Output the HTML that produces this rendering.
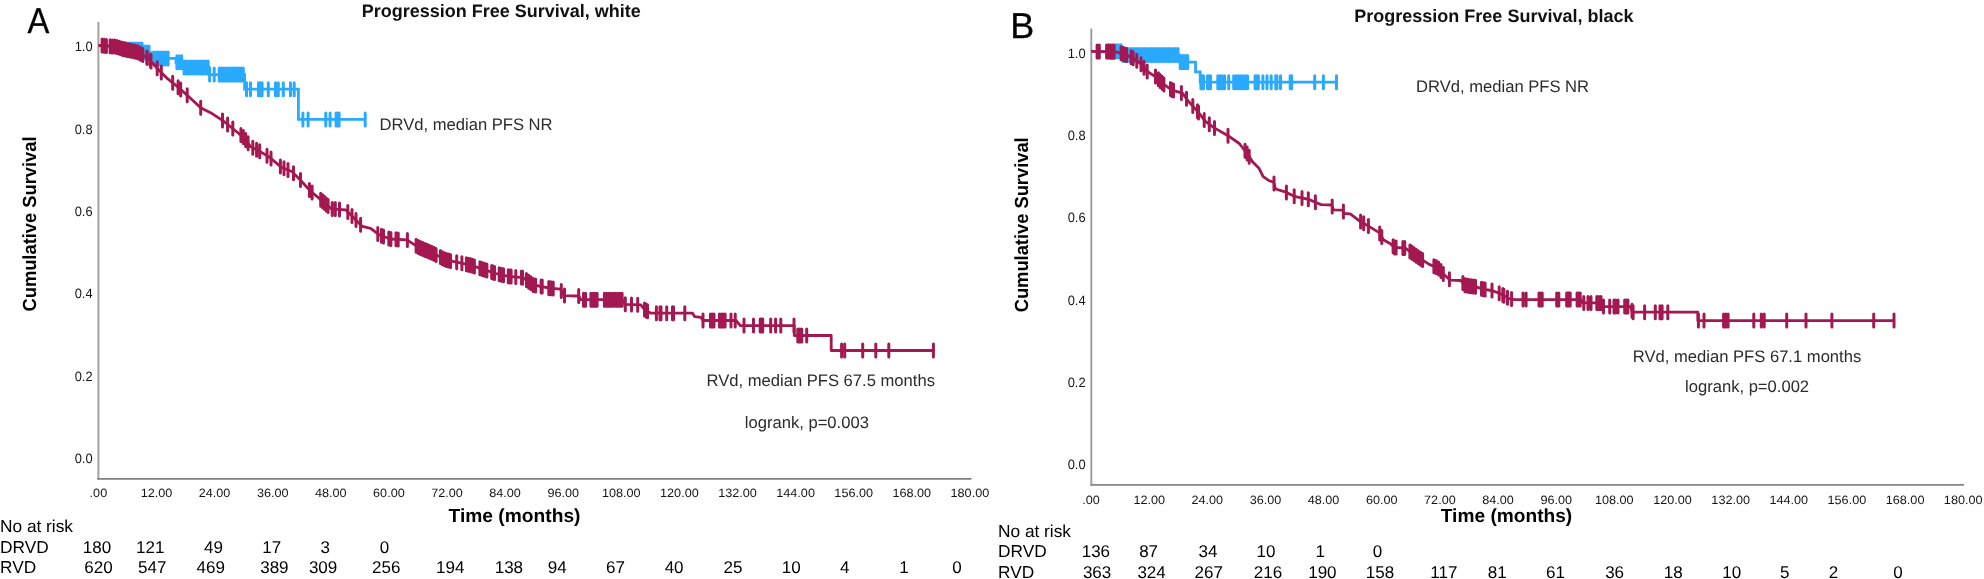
<!DOCTYPE html>
<html lang="en"><head><meta charset="utf-8"><title>Progression Free Survival</title>
<style>
html,body{margin:0;padding:0;background:#fff;}
body{width:1984px;height:579px;overflow:hidden;font-family:"Liberation Sans",Arial,sans-serif;}
svg{display:block;filter:blur(0.35px);}
</style></head><body>
<svg width="1984" height="579" viewBox="0 0 1984 579">
<rect width="1984" height="579" fill="#fff"/>
<path d="M98.4,22 V479.6" fill="none" stroke="#a2a2a2" stroke-width="2"/>
<path d="M97.4,478.9 H971.5" fill="none" stroke="#808080" stroke-width="1.7"/>
<path d="M1091.3,28.5 V485.6" fill="none" stroke="#9c9c9c" stroke-width="1.9"/>
<path d="M1090.4,484.8 H1964" fill="none" stroke="#858585" stroke-width="1.7"/>
<path d="M98.5,45.8 H122.0 V49.5 H143.7 V52.6 H152.0 V58.4 H176.0 V62.3 H184.0 V67.5 H209.0 V74.6 H244.6 V89.2 H298.4 V119.4 H365.2" fill="none" stroke="#2AAAFF" stroke-width="2.8" stroke-linejoin="miter"/>
<path d="M122.9,43.0v13.0 M125.3,43.0v13.0 M127.7,43.0v13.0 M130.0,43.0v13.0 M132.4,43.0v13.0 M134.8,43.0v13.0 M137.2,43.0v13.0 M139.6,43.0v13.0 M142.0,43.0v13.0 M144.3,46.1v13.0 M146.7,46.1v13.0 M149.1,46.1v13.0 M153.9,51.9v13.0 M156.3,51.9v13.0 M158.6,51.9v13.0 M161.0,51.9v13.0 M163.4,51.9v13.0 M165.7,51.9v13.0 M168.1,51.9v13.0 M176.9,55.8v13.0 M179.3,55.8v13.0 M181.7,55.8v13.0 M184.1,61.0v13.0 M186.5,61.0v13.0 M188.9,61.0v13.0 M191.3,61.0v13.0 M193.7,61.0v13.0 M196.1,61.0v13.0 M198.5,61.0v13.0 M200.9,61.0v13.0 M203.3,61.0v13.0 M205.7,61.0v13.0 M208.1,61.0v13.0 M209.6,68.1v13.0 M214.2,68.1v13.0 M219.2,68.1v13.0 M221.4,68.1v13.0 M223.6,68.1v13.0 M225.8,68.1v13.0 M228.0,68.1v13.0 M230.2,68.1v13.0 M232.3,68.1v13.0 M234.5,68.1v13.0 M236.7,68.1v13.0 M238.9,68.1v13.0 M241.1,68.1v13.0 M243.3,68.1v13.0 M246.5,82.7v13.0 M250.5,82.7v13.0 M258.5,82.7v13.0 M260.3,82.7v13.0 M262.1,82.7v13.0 M268.3,82.7v13.0 M275.5,82.7v13.0 M278.3,82.7v13.0 M283.3,82.7v13.0 M290.5,82.7v13.0 M294.2,82.7v13.0 M302.9,112.9v13.0 M308.1,112.9v13.0 M325.8,112.9v13.0 M330.1,112.9v13.0 M336.1,112.9v13.0 M337.6,112.9v13.0 M339.1,112.9v13.0 M365.2,112.9v13.0" fill="none" stroke="#2AAAFF" stroke-width="3" stroke-linecap="round"/>
<path d="M98.5,45.5 L100.2,45.5 L115.7,46.6 L126.1,49.7 L136.5,51.8 L142.7,54.9 L148.9,59.0 L157.2,68.3 L167.5,78.7 L177.9,87.0 L188.3,96.3 L200.7,107.7 L211.0,112.9 L223.5,121.2 L233.9,129.5 L244.2,137.8 L250.4,146.6 L258.7,150.7 L269.0,156.9 L281.5,167.3 L291.8,171.5 L300.1,179.7 L310.5,191.1 L322.9,201.5 L331.2,208.8 L345.7,209.8 L354.0,218.1 L362.3,226.4 L370.6,228.4 L378.9,234.7 L390.4,239.0 L407.0,239.8 L417.3,246.6 L431.8,252.8 L446.3,260.1 L456.7,262.2 L471.2,265.3 L483.6,269.4 L496.0,273.6 L508.5,276.3 L523.0,277.7 L533.4,285.0 L550.0,288.1 L560.3,289.1 L564.0,295.6 L578.7,296.0 L580.7,299.7 L622.0,299.7 L625.3,304.3 L640.8,304.9 L645.0,310.0 L651.0,313.2 L692.6,313.2 L694.7,316.7 L701.0,317.4 L703.0,320.5 L736.0,320.5 L740.3,325.6 L794.3,325.6 L794.3,335.5 L831.2,335.5 L831.2,350.5 L933.6,350.5" fill="none" stroke="#A31850" stroke-width="2.8" stroke-linejoin="round"/>
<path d="M102.1,39.1v13.0 M104.2,39.3v13.0 M106.4,39.4v13.0 M110.1,39.7v13.0 M112.4,39.9v13.0 M114.8,40.0v13.0 M117.1,40.5v13.0 M119.4,41.2v13.0 M121.8,41.9v13.0 M124.1,42.6v13.0 M126.4,43.3v13.0 M128.8,43.7v13.0 M131.1,44.2v13.0 M133.5,44.7v13.0 M135.8,45.2v13.0 M138.1,46.1v13.0 M140.5,47.3v13.0 M142.8,48.5v13.0 M146.8,51.1v13.0 M147.3,51.4v13.0 M150.5,54.3v13.0 M151.0,54.9v13.0 M157.2,61.8v13.0 M161.3,65.9v13.0 M172.7,76.3v13.0 M178.1,80.7v13.0 M178.1,80.7v13.0 M180.7,83.0v13.0 M180.7,83.0v13.0 M187.2,88.8v13.0 M200.7,101.2v13.0 M222.5,114.0v13.0 M227.6,118.0v13.0 M232.8,122.1v13.0 M240.9,128.6v13.0 M243.3,130.6v13.0 M245.7,133.4v13.0 M248.1,136.8v13.0 M252.8,141.3v13.0 M256.6,143.2v13.0 M259.7,144.8v13.0 M267.0,149.2v13.0 M271.0,152.1v13.0 M280.4,159.9v13.0 M284.0,161.8v13.0 M288.0,163.5v13.0 M293.5,166.7v13.0 M300.5,173.6v13.0 M309.4,183.4v13.0 M312.1,185.9v13.0 M320.7,193.2v13.0 M322.6,194.7v13.0 M324.4,196.3v13.0 M326.2,197.9v13.0 M328.1,199.6v13.0 M332.2,202.4v13.0 M335.3,202.6v13.0 M339.5,202.9v13.0 M347.8,205.4v13.0 M352.0,209.6v13.0 M356.0,213.6v13.0 M360.6,218.2v13.0 M377.8,227.4v13.0 M381.5,229.2v13.0 M383.5,229.9v13.0 M388.8,231.9v13.0 M390.9,232.5v13.0 M396.0,232.8v13.0 M398.2,232.9v13.0 M407.4,233.6v13.0 M416.1,239.3v13.0 M418.3,240.5v13.0 M420.5,241.5v13.0 M422.8,242.4v13.0 M425.0,243.4v13.0 M427.2,244.3v13.0 M429.4,245.3v13.0 M431.7,246.2v13.0 M433.9,247.3v13.0 M436.1,248.5v13.0 M440.4,250.6v13.0 M442.4,251.7v13.0 M444.5,252.7v13.0 M446.5,253.6v13.0 M448.6,254.1v13.0 M450.6,254.5v13.0 M456.7,255.7v13.0 M461.9,256.8v13.0 M466.4,257.8v13.0 M468.4,258.2v13.0 M470.4,258.6v13.0 M472.4,259.2v13.0 M474.4,259.9v13.0 M479.9,261.7v13.0 M482.2,262.4v13.0 M484.6,263.2v13.0 M486.9,264.0v13.0 M491.7,265.6v13.0 M493.1,266.1v13.0 M494.5,266.6v13.0 M499.2,267.8v13.0 M501.4,268.3v13.0 M503.5,268.7v13.0 M508.3,269.8v13.0 M509.7,269.9v13.0 M511.1,270.1v13.0 M515.8,270.5v13.0 M521.5,271.1v13.0 M522.5,271.2v13.0 M526.4,273.6v13.0 M528.7,275.2v13.0 M531.0,276.8v13.0 M533.3,278.4v13.0 M535.6,278.9v13.0 M541.1,279.9v13.0 M542.2,280.1v13.0 M548.8,281.4v13.0 M551.0,281.7v13.0 M553.2,281.9v13.0 M561.3,284.4v13.0 M564.5,289.1v13.0 M578.7,289.5v13.0 M583.5,293.2v13.0 M585.5,293.2v13.0 M590.9,293.2v13.0 M593.0,293.2v13.0 M595.0,293.2v13.0 M597.1,293.2v13.0 M604.4,293.2v13.0 M606.6,293.2v13.0 M608.8,293.2v13.0 M611.0,293.2v13.0 M613.2,293.2v13.0 M615.5,293.2v13.0 M617.7,293.2v13.0 M619.9,293.2v13.0 M622.1,293.3v13.0 M625.3,297.8v13.0 M631.5,298.0v13.0 M637.7,298.3v13.0 M644.5,302.9v13.0 M646.0,304.0v13.0 M647.5,304.8v13.0 M656.4,306.7v13.0 M660.0,306.7v13.0 M661.0,306.7v13.0 M666.7,306.7v13.0 M672.5,306.7v13.0 M673.5,306.7v13.0 M684.8,306.7v13.0 M703.0,314.0v13.0 M710.5,314.0v13.0 M712.2,314.0v13.0 M714.0,314.0v13.0 M719.4,314.0v13.0 M721.3,314.0v13.0 M723.2,314.0v13.0 M725.1,314.0v13.0 M731.0,314.0v13.0 M735.2,314.0v13.0 M744.0,319.1v13.0 M753.5,319.1v13.0 M760.2,319.1v13.0 M761.5,319.1v13.0 M762.7,319.1v13.0 M770.7,319.1v13.0 M775.6,319.1v13.0 M780.8,319.1v13.0 M794.0,319.1v13.0 M797.8,329.0v13.0 M799.8,329.0v13.0 M801.7,329.0v13.0 M806.7,329.0v13.0 M841.6,344.0v13.0 M844.7,344.0v13.0 M862.7,344.0v13.0 M875.8,344.0v13.0 M888.8,344.0v13.0 M933.4,344.0v13.0" fill="none" stroke="#A31850" stroke-width="3" stroke-linecap="round"/>

<path d="M1091.2,51.3 H1122.0 V54.9 H1179.3 V62.1 H1195.5 V71.8 H1200.2 V82.2 H1336.5" fill="none" stroke="#2AAAFF" stroke-width="2.8" stroke-linejoin="miter"/>
<path d="M1108.7,44.8v13.0 M1110.8,44.8v13.0 M1112.8,44.8v13.0 M1114.9,44.8v13.0 M1117.0,44.8v13.0 M1119.0,44.8v13.0 M1121.1,44.8v13.0 M1122.9,48.4v13.0 M1125.3,48.4v13.0 M1127.7,48.4v13.0 M1130.1,48.4v13.0 M1132.5,48.4v13.0 M1134.9,48.4v13.0 M1137.3,48.4v13.0 M1139.7,48.4v13.0 M1142.1,48.4v13.0 M1144.5,48.4v13.0 M1146.9,48.4v13.0 M1149.3,48.4v13.0 M1151.7,48.4v13.0 M1154.1,48.4v13.0 M1156.5,48.4v13.0 M1158.9,48.4v13.0 M1161.3,48.4v13.0 M1163.7,48.4v13.0 M1166.1,48.4v13.0 M1168.5,48.4v13.0 M1170.9,48.4v13.0 M1173.3,48.4v13.0 M1175.7,48.4v13.0 M1178.1,48.4v13.0 M1180.2,55.6v13.0 M1182.1,55.6v13.0 M1183.9,55.6v13.0 M1185.8,55.6v13.0 M1187.7,55.6v13.0 M1200.9,75.7v13.0 M1202.2,75.7v13.0 M1203.5,75.7v13.0 M1207.5,75.7v13.0 M1209.0,75.7v13.0 M1210.5,75.7v13.0 M1217.8,75.7v13.0 M1219.9,75.7v13.0 M1222.0,75.7v13.0 M1224.6,75.7v13.0 M1228.7,75.7v13.0 M1233.7,75.7v13.0 M1236.0,75.7v13.0 M1238.3,75.7v13.0 M1240.6,75.7v13.0 M1242.9,75.7v13.0 M1245.2,75.7v13.0 M1247.5,75.7v13.0 M1255.1,75.7v13.0 M1256.7,75.7v13.0 M1258.3,75.7v13.0 M1262.9,75.7v13.0 M1267.0,75.7v13.0 M1271.2,75.7v13.0 M1275.8,75.7v13.0 M1276.9,75.7v13.0 M1280.5,75.7v13.0 M1290.2,75.7v13.0 M1291.6,75.7v13.0 M1314.7,75.7v13.0 M1323.4,75.7v13.0 M1336.5,75.7v13.0" fill="none" stroke="#2AAAFF" stroke-width="3" stroke-linecap="round"/>
<path d="M1091.2,51.3 L1116.0,51.8 L1126.5,54.9 L1134.7,59.0 L1141.0,64.2 L1147.2,71.5 L1155.5,76.6 L1163.8,84.3 L1172.0,90.1 L1182.4,93.2 L1188.6,101.5 L1198.0,111.9 L1205.2,121.2 L1213.5,127.4 L1228.0,135.7 L1239.3,143.5 L1246.6,152.8 L1252.8,162.1 L1259.0,168.3 L1263.2,176.6 L1269.4,180.8 L1273.5,181.8 L1275.6,189.0 L1286.0,192.2 L1294.2,196.3 L1308.8,199.4 L1316.0,202.5 L1321.2,204.6 L1331.6,205.0 L1333.6,209.8 L1343.0,210.2 L1344.0,213.5 L1350.2,213.9 L1358.5,220.2 L1368.9,226.4 L1379.2,232.6 L1383.4,239.8 L1390.4,243.8 L1394.5,247.4 L1404.9,248.0 L1411.0,252.1 L1421.5,259.4 L1429.7,264.6 L1438.0,267.7 L1444.2,274.9 L1450.5,280.1 L1460.8,280.5 L1465.0,285.3 L1475.3,286.7 L1483.6,289.4 L1491.9,290.5 L1500.2,293.6 L1508.5,298.3 L1514.7,299.6 L1580.7,299.6 L1582.8,302.9 L1601.5,302.9 L1602.5,306.6 L1630.5,306.6 L1632.5,312.2 L1697.8,312.2 L1697.8,320.6 L1894.0,320.6" fill="none" stroke="#A31850" stroke-width="2.8" stroke-linejoin="round"/>
<path d="M1097.1,44.9v13.0 M1099.3,45.0v13.0 M1106.6,45.1v13.0 M1108.5,45.1v13.0 M1110.3,45.2v13.0 M1112.2,45.2v13.0 M1114.1,45.3v13.0 M1121.1,46.8v13.0 M1122.9,47.3v13.0 M1124.8,47.9v13.0 M1126.6,48.4v13.0 M1131.1,50.7v13.0 M1133.2,51.8v13.0 M1136.8,54.2v13.0 M1141.0,57.7v13.0 M1144.0,61.2v13.0 M1147.2,65.0v13.0 M1155.5,70.1v13.0 M1158.4,72.8v13.0 M1160.2,74.5v13.0 M1162.1,76.2v13.0 M1163.9,77.9v13.0 M1170.5,82.5v13.0 M1172.0,83.6v13.0 M1173.5,84.0v13.0 M1181.4,86.4v13.0 M1186.5,92.2v13.0 M1192.8,99.6v13.0 M1197.5,104.8v13.0 M1198.5,106.0v13.0 M1204.2,113.4v13.0 M1209.3,117.8v13.0 M1214.5,121.5v13.0 M1228.0,129.2v13.0 M1245.0,144.3v13.0 M1247.1,147.1v13.0 M1249.2,150.2v13.0 M1274.0,177.0v13.0 M1286.4,185.9v13.0 M1294.2,189.8v13.0 M1302.0,191.5v13.0 M1308.3,192.8v13.0 M1315.4,195.7v13.0 M1332.2,199.9v13.0 M1343.4,205.0v13.0 M1360.6,215.0v13.0 M1363.7,216.8v13.0 M1368.4,219.6v13.0 M1379.7,227.0v13.0 M1381.8,230.6v13.0 M1393.1,239.7v13.0 M1394.6,240.9v13.0 M1396.1,241.0v13.0 M1402.9,241.4v13.0 M1404.7,241.5v13.0 M1410.3,245.1v13.0 M1409.9,244.9v13.0 M1412.0,246.3v13.0 M1414.1,247.8v13.0 M1416.2,249.2v13.0 M1418.4,250.7v13.0 M1420.5,252.2v13.0 M1422.6,253.6v13.0 M1433.9,259.7v13.0 M1436.2,260.5v13.0 M1438.6,261.9v13.0 M1441.0,264.6v13.0 M1443.3,267.4v13.0 M1449.4,272.7v13.0 M1462.9,276.4v13.0 M1465.0,278.8v13.0 M1467.1,279.1v13.0 M1469.2,279.4v13.0 M1471.3,279.7v13.0 M1473.4,279.9v13.0 M1475.5,280.3v13.0 M1481.5,282.2v13.0 M1483.3,282.8v13.0 M1485.1,283.1v13.0 M1492.0,284.0v13.0 M1499.2,286.7v13.0 M1502.8,288.6v13.0 M1503.9,289.2v13.0 M1507.5,291.2v13.0 M1511.6,292.4v13.0 M1523.0,293.1v13.0 M1526.1,293.1v13.0 M1539.0,293.1v13.0 M1540.6,293.1v13.0 M1542.2,293.1v13.0 M1556.7,293.1v13.0 M1558.8,293.1v13.0 M1567.0,293.1v13.0 M1568.6,293.1v13.0 M1570.2,293.1v13.0 M1578.0,293.1v13.0 M1566.7,293.1v13.0 M1568.3,293.1v13.0 M1569.9,293.1v13.0 M1577.1,293.1v13.0 M1578.7,293.1v13.0 M1580.2,293.1v13.0 M1583.8,296.4v13.0 M1588.0,296.4v13.0 M1591.0,296.4v13.0 M1596.8,296.4v13.0 M1598.9,296.4v13.0 M1601.0,296.4v13.0 M1603.5,300.1v13.0 M1609.7,300.1v13.0 M1614.0,300.1v13.0 M1615.5,300.1v13.0 M1618.0,300.1v13.0 M1624.7,300.1v13.0 M1626.3,300.1v13.0 M1627.9,300.1v13.0 M1632.0,304.3v13.0 M1633.1,305.7v13.0 M1644.6,305.7v13.0 M1655.3,305.7v13.0 M1660.0,305.7v13.0 M1662.1,305.7v13.0 M1667.8,305.7v13.0 M1698.4,314.1v13.0 M1704.0,314.1v13.0 M1723.6,314.1v13.0 M1725.8,314.1v13.0 M1728.1,314.1v13.0 M1753.8,314.1v13.0 M1761.3,314.1v13.0 M1764.2,314.1v13.0 M1786.7,314.1v13.0 M1806.0,314.1v13.0 M1831.9,314.1v13.0 M1873.7,314.1v13.0 M1894.0,314.1v13.0" fill="none" stroke="#A31850" stroke-width="3" stroke-linecap="round"/>

<g font-family="'Liberation Sans', Arial, sans-serif" text-rendering="geometricPrecision">
<text x="27.4" y="33.0" font-size="36" text-anchor="start" font-weight="normal" fill="#000" textLength="21.8" lengthAdjust="spacingAndGlyphs" stroke="#000" stroke-width="0.3">A</text>
<text x="1010.3" y="38.0" font-size="36" text-anchor="start" font-weight="normal" fill="#000" stroke="#000" stroke-width="0.3">B</text>
<text x="501.2" y="16.6" font-size="18" text-anchor="middle" font-weight="bold" fill="#111" >Progression Free Survival, white</text>
<text x="1493.9" y="22.3" font-size="18" text-anchor="middle" font-weight="bold" fill="#111" >Progression Free Survival, black</text>
<text x="92.6" y="51.099999999999994" font-size="13.5" text-anchor="end" font-weight="normal" fill="#151515" textLength="17.9" lengthAdjust="spacingAndGlyphs">1.0</text>
<text x="1085.6" y="57.8" font-size="13.5" text-anchor="end" font-weight="normal" fill="#151515" textLength="17.9" lengthAdjust="spacingAndGlyphs">1.0</text>
<text x="92.6" y="133.5" font-size="13.5" text-anchor="end" font-weight="normal" fill="#151515" textLength="17.9" lengthAdjust="spacingAndGlyphs">0.8</text>
<text x="1085.6" y="140.08" font-size="13.5" text-anchor="end" font-weight="normal" fill="#151515" textLength="17.9" lengthAdjust="spacingAndGlyphs">0.8</text>
<text x="92.6" y="215.90000000000003" font-size="13.5" text-anchor="end" font-weight="normal" fill="#151515" textLength="17.9" lengthAdjust="spacingAndGlyphs">0.6</text>
<text x="1085.6" y="222.36" font-size="13.5" text-anchor="end" font-weight="normal" fill="#151515" textLength="17.9" lengthAdjust="spacingAndGlyphs">0.6</text>
<text x="92.6" y="298.3" font-size="13.5" text-anchor="end" font-weight="normal" fill="#151515" textLength="17.9" lengthAdjust="spacingAndGlyphs">0.4</text>
<text x="1085.6" y="304.64" font-size="13.5" text-anchor="end" font-weight="normal" fill="#151515" textLength="17.9" lengthAdjust="spacingAndGlyphs">0.4</text>
<text x="92.6" y="380.70000000000005" font-size="13.5" text-anchor="end" font-weight="normal" fill="#151515" textLength="17.9" lengthAdjust="spacingAndGlyphs">0.2</text>
<text x="1085.6" y="386.91999999999996" font-size="13.5" text-anchor="end" font-weight="normal" fill="#151515" textLength="17.9" lengthAdjust="spacingAndGlyphs">0.2</text>
<text x="92.6" y="463.1" font-size="13.5" text-anchor="end" font-weight="normal" fill="#151515" textLength="17.9" lengthAdjust="spacingAndGlyphs">0.0</text>
<text x="1085.6" y="469.19999999999993" font-size="13.5" text-anchor="end" font-weight="normal" fill="#151515" textLength="17.9" lengthAdjust="spacingAndGlyphs">0.0</text>
<text x="98.4" y="496.7" font-size="12.1" text-anchor="middle" font-weight="normal" fill="#151515" textLength="17.6" lengthAdjust="spacingAndGlyphs">.00</text>
<text x="1091.0" y="503.5" font-size="12.1" text-anchor="middle" font-weight="normal" fill="#151515" textLength="17.6" lengthAdjust="spacingAndGlyphs">.00</text>
<text x="156.5" y="496.7" font-size="12.1" text-anchor="middle" font-weight="normal" fill="#151515" textLength="31.6" lengthAdjust="spacingAndGlyphs">12.00</text>
<text x="1149.2" y="503.5" font-size="12.1" text-anchor="middle" font-weight="normal" fill="#151515" textLength="31.6" lengthAdjust="spacingAndGlyphs">12.00</text>
<text x="214.6" y="496.7" font-size="12.1" text-anchor="middle" font-weight="normal" fill="#151515" textLength="31.6" lengthAdjust="spacingAndGlyphs">24.00</text>
<text x="1207.3" y="503.5" font-size="12.1" text-anchor="middle" font-weight="normal" fill="#151515" textLength="31.6" lengthAdjust="spacingAndGlyphs">24.00</text>
<text x="272.7" y="496.7" font-size="12.1" text-anchor="middle" font-weight="normal" fill="#151515" textLength="31.6" lengthAdjust="spacingAndGlyphs">36.00</text>
<text x="1265.5" y="503.5" font-size="12.1" text-anchor="middle" font-weight="normal" fill="#151515" textLength="31.6" lengthAdjust="spacingAndGlyphs">36.00</text>
<text x="330.8" y="496.7" font-size="12.1" text-anchor="middle" font-weight="normal" fill="#151515" textLength="31.6" lengthAdjust="spacingAndGlyphs">48.00</text>
<text x="1323.6" y="503.5" font-size="12.1" text-anchor="middle" font-weight="normal" fill="#151515" textLength="31.6" lengthAdjust="spacingAndGlyphs">48.00</text>
<text x="388.9" y="496.7" font-size="12.1" text-anchor="middle" font-weight="normal" fill="#151515" textLength="31.6" lengthAdjust="spacingAndGlyphs">60.00</text>
<text x="1381.8" y="503.5" font-size="12.1" text-anchor="middle" font-weight="normal" fill="#151515" textLength="31.6" lengthAdjust="spacingAndGlyphs">60.00</text>
<text x="447.0" y="496.7" font-size="12.1" text-anchor="middle" font-weight="normal" fill="#151515" textLength="31.6" lengthAdjust="spacingAndGlyphs">72.00</text>
<text x="1439.9" y="503.5" font-size="12.1" text-anchor="middle" font-weight="normal" fill="#151515" textLength="31.6" lengthAdjust="spacingAndGlyphs">72.00</text>
<text x="505.1" y="496.7" font-size="12.1" text-anchor="middle" font-weight="normal" fill="#151515" textLength="31.6" lengthAdjust="spacingAndGlyphs">84.00</text>
<text x="1498.0" y="503.5" font-size="12.1" text-anchor="middle" font-weight="normal" fill="#151515" textLength="31.6" lengthAdjust="spacingAndGlyphs">84.00</text>
<text x="563.2" y="496.7" font-size="12.1" text-anchor="middle" font-weight="normal" fill="#151515" textLength="31.6" lengthAdjust="spacingAndGlyphs">96.00</text>
<text x="1556.2" y="503.5" font-size="12.1" text-anchor="middle" font-weight="normal" fill="#151515" textLength="31.6" lengthAdjust="spacingAndGlyphs">96.00</text>
<text x="621.3" y="496.7" font-size="12.1" text-anchor="middle" font-weight="normal" fill="#151515" textLength="38.7" lengthAdjust="spacingAndGlyphs">108.00</text>
<text x="1614.3" y="503.5" font-size="12.1" text-anchor="middle" font-weight="normal" fill="#151515" textLength="38.7" lengthAdjust="spacingAndGlyphs">108.00</text>
<text x="679.4" y="496.7" font-size="12.1" text-anchor="middle" font-weight="normal" fill="#151515" textLength="38.7" lengthAdjust="spacingAndGlyphs">120.00</text>
<text x="1672.5" y="503.5" font-size="12.1" text-anchor="middle" font-weight="normal" fill="#151515" textLength="38.7" lengthAdjust="spacingAndGlyphs">120.00</text>
<text x="737.5" y="496.7" font-size="12.1" text-anchor="middle" font-weight="normal" fill="#151515" textLength="38.7" lengthAdjust="spacingAndGlyphs">132.00</text>
<text x="1730.7" y="503.5" font-size="12.1" text-anchor="middle" font-weight="normal" fill="#151515" textLength="38.7" lengthAdjust="spacingAndGlyphs">132.00</text>
<text x="795.6" y="496.7" font-size="12.1" text-anchor="middle" font-weight="normal" fill="#151515" textLength="38.7" lengthAdjust="spacingAndGlyphs">144.00</text>
<text x="1788.8" y="503.5" font-size="12.1" text-anchor="middle" font-weight="normal" fill="#151515" textLength="38.7" lengthAdjust="spacingAndGlyphs">144.00</text>
<text x="853.7" y="496.7" font-size="12.1" text-anchor="middle" font-weight="normal" fill="#151515" textLength="38.7" lengthAdjust="spacingAndGlyphs">156.00</text>
<text x="1846.9" y="503.5" font-size="12.1" text-anchor="middle" font-weight="normal" fill="#151515" textLength="38.7" lengthAdjust="spacingAndGlyphs">156.00</text>
<text x="911.8" y="496.7" font-size="12.1" text-anchor="middle" font-weight="normal" fill="#151515" textLength="38.7" lengthAdjust="spacingAndGlyphs">168.00</text>
<text x="1905.1" y="503.5" font-size="12.1" text-anchor="middle" font-weight="normal" fill="#151515" textLength="38.7" lengthAdjust="spacingAndGlyphs">168.00</text>
<text x="969.9" y="496.7" font-size="12.1" text-anchor="middle" font-weight="normal" fill="#151515" textLength="38.7" lengthAdjust="spacingAndGlyphs">180.00</text>
<text x="1963.2" y="503.5" font-size="12.1" text-anchor="middle" font-weight="normal" fill="#151515" textLength="38.7" lengthAdjust="spacingAndGlyphs">180.00</text>
<text x="514.5" y="522.1" font-size="19" text-anchor="middle" font-weight="bold" fill="#000" textLength="132" lengthAdjust="spacingAndGlyphs">Time (months)</text>
<text x="1506.5" y="522.1" font-size="19" text-anchor="middle" font-weight="bold" fill="#000" textLength="131.5" lengthAdjust="spacingAndGlyphs">Time (months)</text>
<text transform="translate(36.3,224) rotate(-90)" font-size="19" text-anchor="middle" font-weight="bold" fill="#000" textLength="175" lengthAdjust="spacingAndGlyphs">Cumulative Survival</text>
<text transform="translate(1028.2,224.8) rotate(-90)" font-size="19" text-anchor="middle" font-weight="bold" fill="#000" textLength="175" lengthAdjust="spacingAndGlyphs">Cumulative Survival</text>
<text x="379.5" y="130" font-size="16.6" text-anchor="start" font-weight="normal" fill="#2b2b2b" >DRVd, median PFS NR</text>
<text x="706.5" y="386.2" font-size="16.6" text-anchor="start" font-weight="normal" fill="#2b2b2b" >RVd, median PFS 67.5 months</text>
<text x="744.8" y="428.1" font-size="16.6" text-anchor="start" font-weight="normal" fill="#2b2b2b" >logrank, p=0.003</text>
<text x="1416" y="91.8" font-size="16.6" text-anchor="start" font-weight="normal" fill="#2b2b2b" >DRVd, median PFS NR</text>
<text x="1632.8" y="361.6" font-size="16.6" text-anchor="start" font-weight="normal" fill="#2b2b2b" >RVd, median PFS 67.1 months</text>
<text x="1685" y="392.3" font-size="16.6" text-anchor="start" font-weight="normal" fill="#2b2b2b" >logrank, p=0.002</text>
<text x="0" y="532.3" font-size="17.3" text-anchor="start" font-weight="normal" fill="#000" >No at risk</text>
<text x="0" y="553" font-size="17.3" text-anchor="start" font-weight="normal" fill="#000" >DRVD</text>
<text x="0" y="573.2" font-size="17.3" text-anchor="start" font-weight="normal" fill="#000" >RVD</text>
<text x="97" y="553" font-size="17" text-anchor="middle" font-weight="normal" fill="#000" >180</text>
<text x="150.3" y="553" font-size="17" text-anchor="middle" font-weight="normal" fill="#000" >121</text>
<text x="213.4" y="553" font-size="17" text-anchor="middle" font-weight="normal" fill="#000" >49</text>
<text x="271.8" y="553" font-size="17" text-anchor="middle" font-weight="normal" fill="#000" >17</text>
<text x="325.3" y="553" font-size="17" text-anchor="middle" font-weight="normal" fill="#000" >3</text>
<text x="384.4" y="553" font-size="17" text-anchor="middle" font-weight="normal" fill="#000" >0</text>
<text x="98.5" y="573.2" font-size="17" text-anchor="middle" font-weight="normal" fill="#000" >620</text>
<text x="152.3" y="573.2" font-size="17" text-anchor="middle" font-weight="normal" fill="#000" >547</text>
<text x="210.7" y="573.2" font-size="17" text-anchor="middle" font-weight="normal" fill="#000" >469</text>
<text x="274.4" y="573.2" font-size="17" text-anchor="middle" font-weight="normal" fill="#000" >389</text>
<text x="323.1" y="573.2" font-size="17" text-anchor="middle" font-weight="normal" fill="#000" >309</text>
<text x="386.2" y="573.2" font-size="17" text-anchor="middle" font-weight="normal" fill="#000" >256</text>
<text x="450.2" y="573.2" font-size="17" text-anchor="middle" font-weight="normal" fill="#000" >194</text>
<text x="508.9" y="573.2" font-size="17" text-anchor="middle" font-weight="normal" fill="#000" >138</text>
<text x="557.3" y="573.2" font-size="17" text-anchor="middle" font-weight="normal" fill="#000" >94</text>
<text x="615.4" y="573.2" font-size="17" text-anchor="middle" font-weight="normal" fill="#000" >67</text>
<text x="674.1" y="573.2" font-size="17" text-anchor="middle" font-weight="normal" fill="#000" >40</text>
<text x="732.9" y="573.2" font-size="17" text-anchor="middle" font-weight="normal" fill="#000" >25</text>
<text x="791.3" y="573.2" font-size="17" text-anchor="middle" font-weight="normal" fill="#000" >10</text>
<text x="844.8" y="573.2" font-size="17" text-anchor="middle" font-weight="normal" fill="#000" >4</text>
<text x="904.1" y="573.2" font-size="17" text-anchor="middle" font-weight="normal" fill="#000" >1</text>
<text x="957" y="573.2" font-size="17" text-anchor="middle" font-weight="normal" fill="#000" >0</text>
<text x="998" y="536.7" font-size="17.3" text-anchor="start" font-weight="normal" fill="#000" >No at risk</text>
<text x="998" y="557.1" font-size="17.3" text-anchor="start" font-weight="normal" fill="#000" >DRVD</text>
<text x="998" y="577.8" font-size="17.3" text-anchor="start" font-weight="normal" fill="#000" >RVD</text>
<text x="1095.9" y="557.1" font-size="17" text-anchor="middle" font-weight="normal" fill="#000" >136</text>
<text x="1148.6" y="557.1" font-size="17" text-anchor="middle" font-weight="normal" fill="#000" >87</text>
<text x="1208" y="557.1" font-size="17" text-anchor="middle" font-weight="normal" fill="#000" >34</text>
<text x="1266" y="557.1" font-size="17" text-anchor="middle" font-weight="normal" fill="#000" >10</text>
<text x="1320.2" y="557.1" font-size="17" text-anchor="middle" font-weight="normal" fill="#000" >1</text>
<text x="1377.4" y="557.1" font-size="17" text-anchor="middle" font-weight="normal" fill="#000" >0</text>
<text x="1097.1" y="577.8" font-size="17" text-anchor="middle" font-weight="normal" fill="#000" >363</text>
<text x="1151.6" y="577.8" font-size="17" text-anchor="middle" font-weight="normal" fill="#000" >324</text>
<text x="1208.8" y="577.8" font-size="17" text-anchor="middle" font-weight="normal" fill="#000" >267</text>
<text x="1268" y="577.8" font-size="17" text-anchor="middle" font-weight="normal" fill="#000" >216</text>
<text x="1322.4" y="577.8" font-size="17" text-anchor="middle" font-weight="normal" fill="#000" >190</text>
<text x="1380" y="577.8" font-size="17" text-anchor="middle" font-weight="normal" fill="#000" >158</text>
<text x="1443.8" y="577.8" font-size="17" text-anchor="middle" font-weight="normal" fill="#000" >117</text>
<text x="1497.2" y="577.8" font-size="17" text-anchor="middle" font-weight="normal" fill="#000" >81</text>
<text x="1555.5" y="577.8" font-size="17" text-anchor="middle" font-weight="normal" fill="#000" >61</text>
<text x="1614.6" y="577.8" font-size="17" text-anchor="middle" font-weight="normal" fill="#000" >36</text>
<text x="1673.2" y="577.8" font-size="17" text-anchor="middle" font-weight="normal" fill="#000" >18</text>
<text x="1731.7" y="577.8" font-size="17" text-anchor="middle" font-weight="normal" fill="#000" >10</text>
<text x="1784.7" y="577.8" font-size="17" text-anchor="middle" font-weight="normal" fill="#000" >5</text>
<text x="1833.5" y="577.8" font-size="17" text-anchor="middle" font-weight="normal" fill="#000" >2</text>
<text x="1898.1" y="577.8" font-size="17" text-anchor="middle" font-weight="normal" fill="#000" >0</text>
</g>
</svg>
</body></html>
